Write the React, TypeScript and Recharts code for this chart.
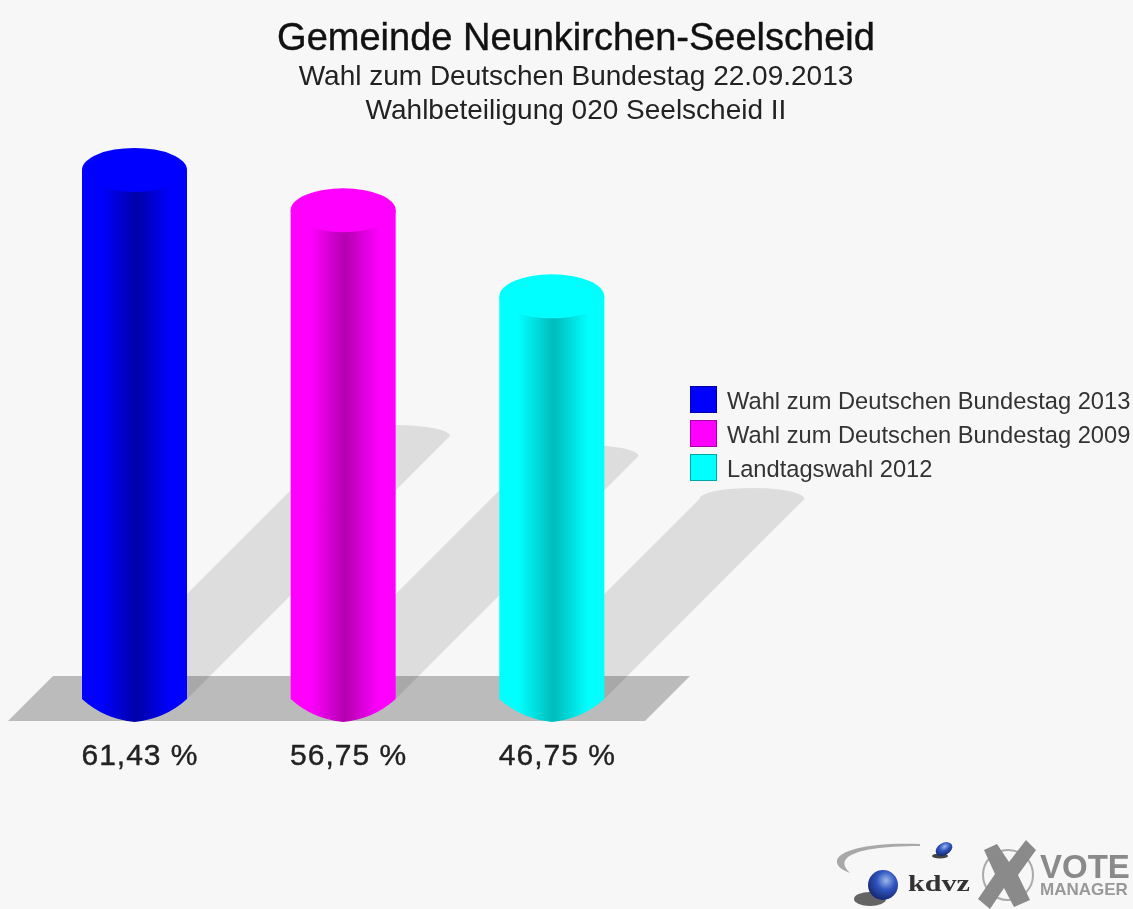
import { Bar, BarChart, ReferenceArea, XAxis, YAxis } from "recharts";

const categories = ["Wahl zum Deutschen Bundestag 2013", "Wahl zum Deutschen Bundestag 2009", "Landtagswahl 2012"];
const values = [61.43, 56.75, 46.75];
const valueLabels = ["61,43 %", "56,75 %", "46,75 %"];
const bright = ["#0000ff", "#ff00ff", "#00ffff"];
const dark = ["#0000a8", "#b400b0", "#00bcbc"];
const titleLines = ["Gemeinde Neunkirchen-Seelscheid", "Wahl zum Deutschen Bundestag 22.09.2013", "Wahlbeteiligung 020 Seelscheid II"];

const FONT = '"Liberation Sans", Arial, sans-serif';
const data = categories.map((name, i) => ({ name, value: values[i], label: valueLabels[i], index: i }));

// floor slab behind the cylinders
function Floor() {
  return <polygon points="8,721 645,721 690,676 53,676" fill="#bbbbbb" />;
}

// shadow and cylinder, both sized from the bar rectangle recharts hands over
function Cylinder(props: any) {
  const { x, y, width, height, payload } = props;
  const i = payload.index;
  const rx = width / 2;
  const cx = x + rx;
  const base = y + height;
  const s = height * 0.497;
  return (
    <g>
      <path
        d={`M${x},${base} L${x + s},${base - s} A${rx} 11 0 0 1 ${x + width + s},${base - s} L${x + width},${base} Z`}
        fill="#000000"
        fillOpacity={0.1}
      />
      <path
        d={`M${x},${y} L${x},${base} Q${x + 22},${base + 20} ${cx},${base + 23} Q${x + width - 22},${base + 20} ${x + width},${base} L${x + width},${y} Z`}
        fill={`url(#cyl${i})`}
      />
      <ellipse cx={cx} cy={y} rx={rx} ry={22} fill={bright[i]} />
      <text
        x={cx + 5.5}
        y={base + 66}
        textAnchor="middle"
        fontFamily={FONT}
        fontSize={30}
        letterSpacing={1}
        fill="#222"
        stroke="#222"
        strokeWidth={0.4}
      >
        {payload.label}
      </text>
    </g>
  );
}

function Logos() {
  return (
    <svg width={313} height={89} style={{ position: "absolute", left: 820, top: 820 }}>
      <defs>
        <radialGradient id="ball" cx="0.6" cy="0.35" r="0.7">
          <stop offset="0" stopColor="#9db8e8" />
          <stop offset="0.45" stopColor="#2f55c0" />
          <stop offset="1" stopColor="#14246a" />
        </radialGradient>
      </defs>
      <path d="M100,24 C50,22 20,30 17,40 C16,46 22,50 30,53 C24,47 22,42 28,37 C38,30 60,26 100,26 Z" fill="#a8a8a8" />
      <ellipse cx={120} cy={36} rx={8} ry={2.5} fill="#444" />
      <ellipse cx={124} cy={29} rx={9} ry={6} fill="url(#ball)" transform="rotate(-30 124 29)" />
      <ellipse cx={50} cy={79} rx={16} ry={7} fill="#333" opacity={0.75} />
      <circle cx={63} cy={65} r={15} fill="url(#ball)" />
      <text x={88} y={71} fontFamily='"Liberation Serif", serif' fontWeight="bold" fontSize={24} textLength={62} lengthAdjust="spacingAndGlyphs" fill="#333">kdvz</text>
      <circle cx={188} cy={55} r={25} fill="none" stroke="#aaa" strokeWidth={2} />
      <path d="M164,30 L177,24 L189,42 L206,20 L216,30 L198,55 L210,80 L194,87 L184,68 L170,89 L158,79 L175,54 Z" fill="#8a8a8a" />
      <text x={220} y={58} fontFamily={FONT} fontWeight="bold" fontSize={33} fill="#8a8a8a">VOTE</text>
      <text x={220} y={75} fontFamily={FONT} fontWeight="bold" fontSize={17} fill="#999">MANAGER</text>
    </svg>
  );
}

export default function App() {
  return (
    <div style={{ position: "absolute", left: 0, top: 0, width: 1133, height: 909, background: "#f7f7f7", overflow: "hidden", filter: "blur(0.6px)" }}>
      <BarChart width={1133} height={909} data={data} margin={{ top: 10, right: 477, bottom: 210, left: 30 }}>
        <defs>
          {bright.map((c, i) => (
            <linearGradient key={c} id={`cyl${i}`} x1="0" y1="0" x2="1" y2="0">
              <stop offset="0" stopColor={c} />
              <stop offset="0.18" stopColor={c} />
              <stop offset="0.52" stopColor={dark[i]} />
              <stop offset="0.85" stopColor={c} />
              <stop offset="1" stopColor={c} />
            </linearGradient>
          ))}
        </defs>
        <XAxis dataKey="name" hide />
        <YAxis hide domain={[0, 80]} />
        <ReferenceArea y1={0} y2={5} ifOverflow="visible" shape={Floor} />
        <Bar dataKey="value" barSize={105} shape={Cylinder} isAnimationActive={false} />
      </BarChart>

      <div style={{ position: "absolute", left: 0, width: 1152, top: 15, textAlign: "center", fontFamily: FONT, color: "#222", whiteSpace: "nowrap" }}>
        <div style={{ fontSize: 38, lineHeight: "44px", color: "#111", WebkitTextStroke: "0.4px #111" }}>{titleLines[0]}</div>
        <div style={{ fontSize: 28, lineHeight: "34px" }}>{titleLines[1]}</div>
        <div style={{ fontSize: 28, lineHeight: "34px" }}>{titleLines[2]}</div>
      </div>

      {categories.map((name, i) => (
        <div key={name} style={{ position: "absolute", left: 690, top: 386 + i * 34, height: 27, display: "flex", alignItems: "center", fontFamily: FONT, fontSize: 23.7, color: "#333", whiteSpace: "nowrap" }}>
          <span style={{ width: 27, height: 27, background: bright[i], marginRight: 10, boxSizing: "border-box", border: "1px solid rgba(0,0,0,0.35)" }} />
          <span style={{ position: "relative", top: 2 }}>{name}</span>
        </div>
      ))}

      <Logos />
    </div>
  );
}
